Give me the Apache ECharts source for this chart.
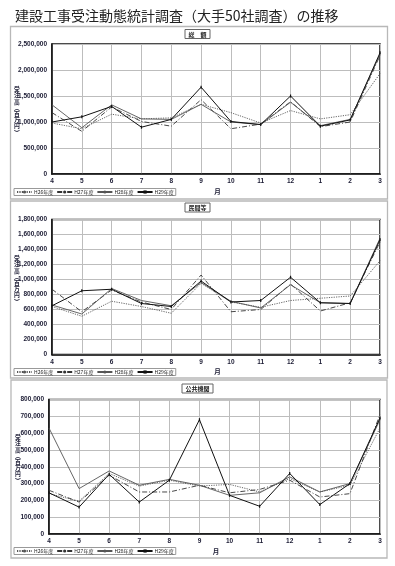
<!DOCTYPE html>
<html>
<head>
<meta charset="utf-8">
<script src="https://cdn.jsdelivr.net/npm/echarts@6/dist/echarts.min.js"></script>
<style>
html,body{margin:0;padding:0;background:#fff;}
#chart{width:395px;height:566px;}
</style>
</head>
<body>
<div id="chart"></div>
<script>
// ---- data (百万円) ----
const months = ['4','5','6','7','8','9','10','11','12','1','2','3'];
const seriesNames = ['H26年度','H27年度','H28年度','H29年度'];
const panelTitles = ['総　額','民間等','公共機関'];
const yAxisTitle = ['受','注','高','︵','百','万','円','︶'];

const totalH26 = [980000, 870000, 1150000, 1060000, 1080000, 1340000, 1180000, 980000, 1220000, 1060000, 1140000, 1930000];
const totalH27 = [1180000, 820000, 1290000, 1010000, 920000, 1430000, 870000, 960000, 1390000, 910000, 1000000, 2280000];
const totalH28 = [1330000, 890000, 1330000, 1060000, 1050000, 1340000, 1000000, 950000, 1380000, 930000, 1050000, 2300000];
const totalH29 = [1000000, 1100000, 1300000, 900000, 1050000, 1670000, 1010000, 950000, 1500000, 920000, 1040000, 2330000];

const privH26 = [640000, 510000, 710000, 640000, 550000, 950000, 700000, 630000, 720000, 750000, 780000, 1250000];
const privH27 = [870000, 570000, 860000, 700000, 600000, 1060000, 570000, 600000, 940000, 580000, 690000, 1500000];
const privH28 = [660000, 540000, 880000, 720000, 650000, 960000, 710000, 620000, 930000, 690000, 680000, 1550000];
const privH29 = [650000, 850000, 870000, 680000, 640000, 980000, 700000, 720000, 1030000, 690000, 680000, 1530000];

const pubH26 = [240000, 195000, 360000, 285000, 320000, 285000, 295000, 250000, 330000, 250000, 290000, 630000];
const pubH27 = [260000, 190000, 350000, 250000, 250000, 290000, 245000, 265000, 320000, 220000, 240000, 710000];
const pubH28 = [630000, 270000, 375000, 290000, 325000, 290000, 230000, 245000, 340000, 250000, 300000, 680000];
const pubH29 = [245000, 160000, 355000, 190000, 320000, 680000, 230000, 165000, 360000, 175000, 300000, 690000];

const yMax = [2500000, 1800000, 800000];
const yInterval = [500000, 200000, 100000];

const panelData = [
  [totalH26, totalH27, totalH28, totalH29],
  [privH26, privH27, privH28, privH29],
  [pubH26, pubH27, pubH28, pubH29]
];

// ---- layout ----
const grids = [
  {left: 52, top: 44, width: 328, height: 130},
  {left: 52, top: 219.5, width: 328, height: 135},
  {left: 49, top: 399.5, width: 331, height: 134.5}
];
const frames = [[10.5, 26.5, 377, 172.5], [10.5, 201, 377, 177], [11, 380, 376, 178]];
const titleTops = [29.5, 203, 384];
const legendTops = [188.5, 368.5, 547.5];
const yNameStart = [[17, 89], [17, 258], [18, 437]];

const lineStyles = [
  {color: '#555', width: 0.9, type: [1.2, 1.2]},
  {color: '#333', width: 0.9, type: [5, 2, 1, 2]},
  {color: '#555', width: 0.9, type: 'solid'},
  {color: '#111', width: 1, type: 'solid'}
];

const labelFont = {fontSize: 6.5, fontWeight: 'bold', color: '#1b1b33', fontFamily: 'Liberation Sans, Arial, sans-serif'};

const yNameGraphics = [];
yNameStart.forEach(p => {
  yAxisTitle.forEach((ch, j) => {
    yNameGraphics.push({
      type: 'text', x: p[0], y: p[1] + j * 6.2, silent: true,
      style: {text: ch, fontSize: 5.8, fontWeight: 'bold', fill: '#1b1b33',
              fontFamily: 'Noto Sans CJK JP', align: 'center', verticalAlign: 'middle'}
    });
  });
});

const option = {
  backgroundColor: '#fff',
  animation: false,
  title: [
    {text: '建設工事受注動態統計調査（大手50社調査）の推移', left: 10, top: 4,
     textStyle: {fontSize: 14, fontWeight: 'normal', color: '#222', fontFamily: 'Noto Sans CJK JP'}}
  ].concat(panelTitles.map((t, i) => ({
    text: t, left: 'center', top: titleTops[i], padding: [1.5, 4, 1, 4],
    borderColor: '#666', borderWidth: 1, backgroundColor: '#fff',
    textStyle: {fontSize: 6, fontWeight: 'bold', color: '#222', fontFamily: 'Noto Sans CJK JP', lineHeight: 7}
  }))),
  graphic: frames.map(f => ({
    type: 'rect', shape: {x: f[0], y: f[1], width: f[2], height: f[3]},
    style: {fill: 'none', stroke: '#b8b8b8', lineWidth: 1.3}, silent: true, z: -1
  })).concat(yNameGraphics),
  legend: legendTops.map(t => ({
    data: seriesNames, left: 14, top: t, orient: 'horizontal',
    itemWidth: 15, itemHeight: 4, itemGap: 3, padding: [1, 2],
    borderColor: '#999', borderWidth: 1,
    textStyle: {fontSize: 5, color: '#222', fontFamily: 'Noto Sans CJK JP', padding: [0, 0, 0, -3]}
  })),
  grid: grids.map(g => Object.assign({show: true, borderColor: '#111', borderWidth: 1.5, backgroundColor: '#fff'}, g)),
  xAxis: grids.map((g, i) => ({
    type: 'category', gridIndex: i, data: months, boundaryGap: false,
    name: '月', nameLocation: 'middle', nameGap: 14,
    nameTextStyle: {fontSize: 6.5, fontWeight: 'bold', color: '#1b1b33', fontFamily: 'Noto Sans CJK JP', padding: [0, 0, 0, 3]},
    axisLine: {lineStyle: {color: '#111', width: 1.5}},
    axisTick: {show: false},
    axisLabel: Object.assign({margin: 4}, labelFont),
    splitLine: {show: true, lineStyle: {color: '#bdbdbd', width: 1}}
  })),
  yAxis: grids.map((g, i) => ({
    type: 'value', gridIndex: i, min: 0, max: yMax[i], interval: yInterval[i],
    axisLine: {show: true, lineStyle: {color: '#111', width: 1.5}},
    axisTick: {show: false},
    axisLabel: Object.assign({margin: 5, formatter: v => v.toLocaleString('en-US')}, labelFont),
    splitLine: {show: true, lineStyle: {color: '#bdbdbd', width: 1}}
  })),
  series: []
};

panelData.forEach((arrs, p) => {
  arrs.forEach((d, k) => {
    option.series.push({
      type: 'line', name: seriesNames[k], xAxisIndex: p, yAxisIndex: p, data: d,
      symbol: k === 3 ? 'rect' : 'none', symbolSize: k === 3 ? [1.2, 3] : 0,
      showSymbol: k === 3,
      itemStyle: {color: lineStyles[k].color},
      lineStyle: lineStyles[k],
      z: 2 + k
    });
  });
});

const chart = echarts.init(document.getElementById('chart'), null, {renderer: 'canvas'});
chart.setOption(option);
</script>
</body>
</html>
